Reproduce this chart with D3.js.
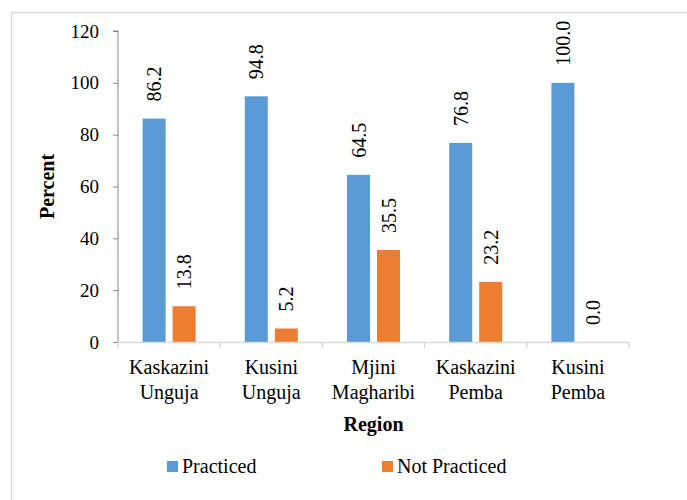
<!DOCTYPE html>
<html><head><meta charset="utf-8">
<script src="https://cdn.jsdelivr.net/npm/d3@7"></script>
<style>html,body{margin:0;padding:0;background:#fff;}svg{display:block;}</style>
</head><body>
<script>
const categories = [["Kaskazini","Unguja"],["Kusini","Unguja"],["Mjini","Magharibi"],["Kaskazini","Pemba"],["Kusini","Pemba"]];
const seriesNames = ["Practiced","Not Practiced"];
const practiced = [86.2, 94.8, 64.5, 76.8, 100.0];
const notPracticed = [13.8, 5.2, 35.5, 23.2, 0.0];
const yTicks = [0,20,40,60,80,100,120];
const colors = ["#5B9BD5","#ED7D31"];

const W=687,H=500;
const svg=d3.select("body").append("svg").attr("width",W).attr("height",H);
svg.append("rect").attr("width",W).attr("height",H).attr("fill","#fff");
svg.append("rect").attr("x",11.5).attr("y",12.5).attr("width",720).attr("height",600)
  .attr("fill","none").attr("stroke","#d9d9d9").attr("stroke-width",1.5);

const pL=118,pR=629,pT=31,pB=342;
const font="Liberation Serif";
const keys=categories.map(c=>c.join(" "));
const x0=d3.scaleBand().domain(keys).range([pL,pR]).padding(0);
const bw=x0.bandwidth();
const gw=53;
const x1=d3.scaleBand().domain(seriesNames).range([(bw-gw)/2,(bw+gw)/2]).paddingInner(7/30).paddingOuter(0);
const y=d3.scaleLinear().domain([0,120]).range([pB,pT]);

const data=keys.map((k,i)=>({k,vals:[practiced[i],notPracticed[i]]}));

// bars
const g=svg.append("g");
data.forEach(d=>{
  d.vals.forEach((v,j)=>{
    const xx=x0(d.k)+x1(seriesNames[j]);
    g.append("rect").attr("x",xx).attr("y",y(v)).attr("width",x1.bandwidth())
      .attr("height",pB-y(v)).attr("fill",colors[j]);
    const cx=xx+x1.bandwidth()/2, ty=y(v)-17;
    g.append("text").attr("transform",`translate(${cx+7},${ty}) rotate(-90)`)
      .attr("text-anchor","start").attr("font-family",font).attr("font-size",20)
      .attr("fill","#000").text(v.toFixed(1));
  });
});

// y axis
const ya=svg.append("g").attr("transform",`translate(${pL},0)`)
  .call(d3.axisLeft(y).tickValues(yTicks).tickSize(5).tickPadding(14).tickFormat(d3.format("d")));
ya.attr("font-family",font);
ya.select(".domain").attr("stroke","#868686").attr("d",`M-5,${pT}H0V${pB}`);
ya.selectAll(".tick line").attr("stroke","#868686");
ya.selectAll("text").attr("font-family",font).attr("font-size",19).attr("fill","#000");

// x axis
const xa=svg.append("g");
xa.append("line").attr("x1",pL).attr("x2",pR).attr("y1",pB+0.5).attr("y2",pB+0.5).attr("stroke","#d9d9d9").attr("stroke-width",1.5);
const bounds=keys.map(k=>x0(k)).concat([pR]);
xa.selectAll("line.t").data(bounds).enter().append("line").attr("class","t")
  .attr("x1",d=>d).attr("x2",d=>d).attr("y1",pB).attr("y2",pB+6).attr("stroke","#d9d9d9").attr("stroke-width",1.5);
data.forEach((d,i)=>{
  const t=xa.append("text").attr("x",x0(d.k)+bw/2).attr("y",374).attr("text-anchor","middle")
    .attr("font-family",font).attr("font-size",20).attr("fill","#000");
  categories[i].forEach((s,j)=>t.append("tspan").attr("x",x0(d.k)+bw/2).attr("dy",j?25:0).text(s));
});

// axis titles
svg.append("text").attr("x",(pL+pR)/2).attr("y",431).attr("text-anchor","middle")
  .attr("font-family",font).attr("font-weight","bold").attr("font-size",20).text("Region");
svg.append("text").attr("transform",`translate(54,${(pT+pB)/2}) rotate(-90)`).attr("text-anchor","middle")
  .attr("font-family",font).attr("font-weight","bold").attr("font-size",20).text("Percent");

// legend
const legX=[167,382];
seriesNames.forEach((s,j)=>{
  svg.append("rect").attr("x",legX[j]).attr("y",461).attr("width",11).attr("height",11).attr("fill",colors[j]);
  svg.append("text").attr("x",legX[j]+15).attr("y",473).attr("font-family",font).attr("font-size",20).attr("fill","#000").text(s);
});
</script>
</body></html>
